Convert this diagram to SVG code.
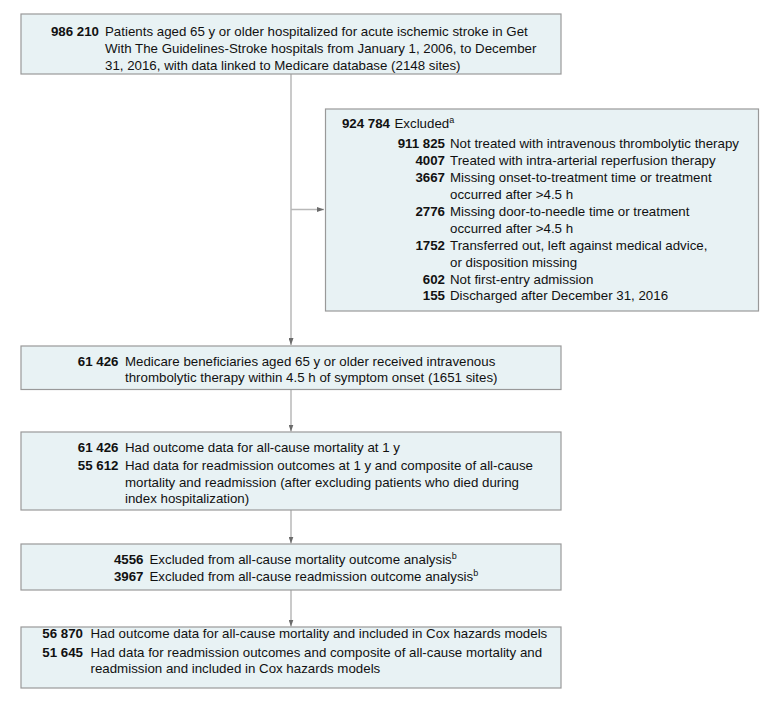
<svg xmlns="http://www.w3.org/2000/svg" width="780" height="701" viewBox="0 0 780 701">
<defs>
<style>
.box{fill:#e8f2f4;stroke:#999;stroke-width:1.2}
.t{font-family:"Liberation Sans",Arial,sans-serif;font-size:13.3px;fill:#111}
.n{font-family:"Liberation Sans",Arial,sans-serif;font-size:13.3px;font-weight:bold;fill:#111;text-anchor:end}
.c{fill:none;stroke:#b8b8b8;stroke-width:1.5}
.sup{font-size:9px}
</style>
<marker id="ah" viewBox="0 0 7 5" refX="7" refY="2.5" markerWidth="7" markerHeight="5" markerUnits="userSpaceOnUse" orient="auto">
<path d="M0,0 L7,2.5 L0,5 Z" fill="#6b6b6b"/>
</marker>
</defs>
<rect width="780" height="701" fill="#fff"/>
<g id="connectors">
<line class="c" x1="291" y1="74" x2="291" y2="345" marker-end="url(#ah)"/>
<line class="c" x1="291" y1="209.5" x2="324" y2="209.5" marker-end="url(#ah)"/>
<line class="c" x1="291" y1="389.5" x2="291" y2="431.5" marker-end="url(#ah)"/>
<line class="c" x1="291" y1="510" x2="291" y2="543.5" marker-end="url(#ah)"/>
<line class="c" x1="291" y1="590" x2="291" y2="626.5" marker-end="url(#ah)"/>
</g>
<g id="n1">
<rect class="box" x="21" y="14" width="540" height="60"/>
<text class="n" x="99" y="36">986 210</text>
<text class="t" x="105" y="36">Patients aged 65 y or older hospitalized for acute ischemic stroke in Get</text>
<text class="t" x="105" y="53">With The Guidelines-Stroke hospitals from January 1, 2006, to December</text>
<text class="t" x="105" y="70">31, 2016, with data linked to Medicare database (2148 sites)</text>
</g>
<g id="excluded">
<rect class="box" x="325.5" y="109" width="433" height="202"/>
<text class="n" x="390" y="128">924 784</text>
<text class="t" x="394.5" y="128">Excluded<tspan class="sup" dy="-5">a</tspan></text>
<text class="n" x="445" y="148">911 825</text>
<text class="t" x="450" y="148">Not treated with intravenous thrombolytic therapy</text>
<text class="n" x="445" y="165">4007</text>
<text class="t" x="450" y="165">Treated with intra-arterial reperfusion therapy</text>
<text class="n" x="445" y="182">3667</text>
<text class="t" x="450" y="182">Missing onset-to-treatment time or treatment</text>
<text class="t" x="450" y="198.5">occurred after &gt;4.5 h</text>
<text class="n" x="445" y="216">2776</text>
<text class="t" x="450" y="216">Missing door-to-needle time or treatment</text>
<text class="t" x="450" y="232.5">occurred after &gt;4.5 h</text>
<text class="n" x="445" y="250">1752</text>
<text class="t" x="450" y="250">Transferred out, left against medical advice,</text>
<text class="t" x="450" y="266.5">or disposition missing</text>
<text class="n" x="445" y="284">602</text>
<text class="t" x="450" y="284">Not first-entry admission</text>
<text class="n" x="445" y="300">155</text>
<text class="t" x="450" y="300">Discharged after December 31, 2016</text>
</g>
<g id="n2">
<rect class="box" x="21" y="346" width="540" height="43.5"/>
<text class="n" x="118.5" y="365.5">61 426</text>
<text class="t" x="125" y="365.5">Medicare beneficiaries aged 65 y or older received intravenous</text>
<text class="t" x="125" y="382">thrombolytic therapy within 4.5 h of symptom onset (1651 sites)</text>
</g>
<g id="n3">
<rect class="box" x="21" y="432" width="540" height="78"/>
<text class="n" x="118.5" y="451.5">61 426</text>
<text class="t" x="125" y="451.5">Had outcome data for all-cause mortality at 1 y</text>
<text class="n" x="118.5" y="470">55 612</text>
<text class="t" x="125" y="470">Had data for readmission outcomes at 1 y and composite of all-cause</text>
<text class="t" x="125" y="486.5">mortality and readmission (after excluding patients who died during</text>
<text class="t" x="125" y="503">index hospitalization)</text>
</g>
<g id="n4">
<rect class="box" x="21" y="544" width="540" height="46"/>
<text class="n" x="143.5" y="564">4556</text>
<text class="t" x="149.5" y="564">Excluded from all-cause mortality outcome analysis<tspan class="sup" dy="-5">b</tspan></text>
<text class="n" x="143.5" y="581">3967</text>
<text class="t" x="149.5" y="581">Excluded from all-cause readmission outcome analysis<tspan class="sup" dy="-5">b</tspan></text>
</g>
<g id="n5">
<rect class="box" x="21" y="627" width="540" height="61"/>
<text class="n" x="83" y="638">56 870</text>
<text class="t" x="90.5" y="638">Had outcome data for all-cause mortality and included in Cox hazards models</text>
<text class="n" x="83" y="656.5">51 645</text>
<text class="t" x="90.5" y="656.5">Had data for readmission outcomes and composite of all-cause mortality and</text>
<text class="t" x="90.5" y="673">readmission and included in Cox hazards models</text>
</g>
</svg>
